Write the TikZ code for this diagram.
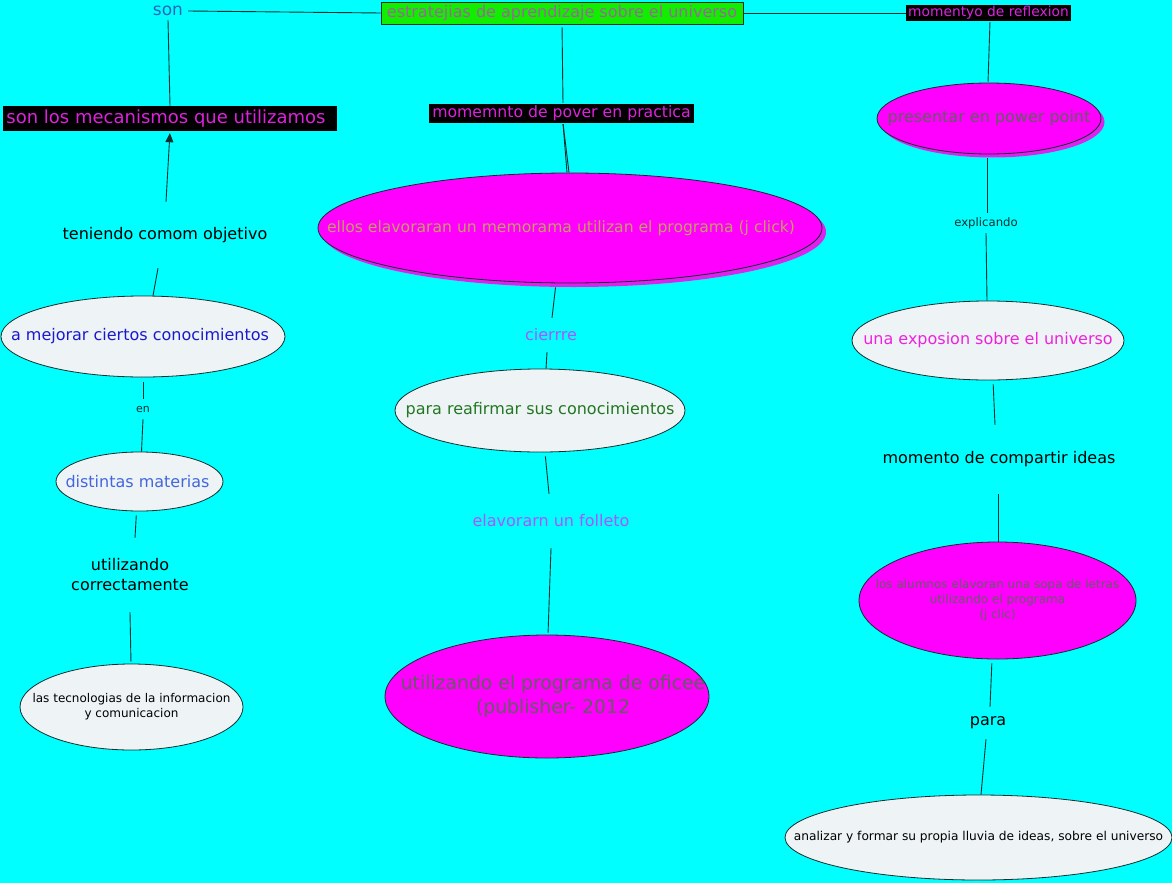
\documentclass[tikz,border=0pt]{standalone}
\usepackage{fontspec}
\setmainfont{DejaVu Sans}
\usetikzlibrary{shapes.geometric,arrows.meta}
\definecolor{bg}{HTML}{00FFFF}
\definecolor{grn}{HTML}{11EE00}
\definecolor{mag}{HTML}{FF00FF}
\definecolor{magsh}{HTML}{DD22EE}
\definecolor{pale}{HTML}{EEF4F6}
\definecolor{ln}{HTML}{0F2F2F}
\definecolor{tpurp}{HTML}{996699}
\definecolor{tson}{HTML}{2266BB}
\definecolor{tmag}{HTML}{DD22DD}
\definecolor{tblue}{HTML}{1A1ACC}
\definecolor{tlblue}{HTML}{4466DD}
\definecolor{ttan}{HTML}{C0A060}
\definecolor{tviol}{HTML}{AA55FF}
\definecolor{tgreen}{HTML}{227722}
\definecolor{tgray}{HTML}{5F5F5F}
\definecolor{tpink}{HTML}{EE22DD}
\definecolor{tdark}{HTML}{103030}
\tikzset{
  fs/.style={font=\fontsize{#1pt}{1.25\dimexpr#1pt\relax}\selectfont},
  lbl/.style={draw=none, inner sep=0pt, align=center, text=tdark},
  ellpale/.style={ellipse, draw=ln, line width=0.8pt, fill=pale, inner sep=0pt},
  ellmag/.style={ellipse, draw=ln, line width=0.8pt, fill=mag, inner sep=0pt},
  shadowell/.style={ellipse, fill=magsh, draw=none, inner sep=0pt},
  conn/.style={draw=ln, line width=0.9pt},
  etext/.style={inner sep=0pt, align=center},
}
\begin{document}
\begin{tikzpicture}[x=1pt,y=-1pt]
\useasboundingbox (0,0) rectangle (1172,883);
\fill[bg] (0,0) rectangle (1172,883);

% ---------- top row ----------
\node[draw=ln, line width=0.8pt, fill=grn, minimum width=362pt, minimum height=22pt, inner sep=0pt, text=tpurp, fs=16] (top) at (562,13) {estratejias de aprendizaje sobre el universo};
\node[lbl, minimum width=40pt, minimum height=18pt, text=tson, fs=17] (son) at (168,11) {son};
\node[fill=black, minimum width=165pt, minimum height=16pt, inner sep=0pt, text=tmag, fs=13.8] (refl) at (988.5,13) {momentyo de reflexion};

% ---------- left column ----------
\node[fill=black, minimum width=334pt, minimum height=25pt, inner sep=0pt, text=tmag, fs=18] (mec) at (170,118.5) {son los mecanismos que utilizamos\hspace*{8pt}};
\node[lbl, minimum width=200pt, minimum height=66pt, text=black, fs=16] (teni) at (165,235) {teniendo comom objetivo};
\node[ellpale, minimum width=284pt, minimum height=81pt] (mej) at (143,336.5) {};
\node[etext, text=tblue, fs=16] at ([xshift=-3pt]mej.center) {a mejorar ciertos conocimientos};
\node[lbl, minimum width=20pt, minimum height=20pt, fs=11] (en) at (143,409) {en};
\node[ellpale, minimum width=167pt, minimum height=59pt] (dist) at (139.5,481.5) {};
\node[etext, text=tlblue, fs=16] at ([xshift=-2pt]dist.center) {distintas materias};
\node[lbl, minimum width=130pt, minimum height=74pt, text=black, fs=16] (util) at (130,575) {utilizando\\correctamente};
\node[ellpale, minimum width=223pt, minimum height=86pt] (tec) at (131.5,707) {};
\node[etext, text=black, fs=12] at (tec) {las tecnologias de la informacion\\y comunicacion};

% ---------- centre column ----------
\node[fill=black, minimum width=265pt, minimum height=19pt, inner sep=0pt, text=tmag, fs=15.7] (mpp) at (561.5,113.5) {momemnto de pover en practica};
\node[shadowell, minimum width=504pt, minimum height=110pt] at (574,232) {};
\node[ellmag, minimum width=504pt, minimum height=110pt] (mem) at (570,228) {};
\node[etext, text=ttan, fs=15.6] at ([xshift=-9pt]mem.center) {ellos elavoraran un memorama utilizan el programa (j click)};
\node[lbl, minimum width=60pt, minimum height=34pt, text=tviol, fs=16] (cier) at (551,335) {cierrre};
\node[ellpale, minimum width=290pt, minimum height=83pt] (reaf) at (540,410.5) {};
\node[etext, text=tgreen, fs=16] at (reaf) {para reafirmar sus conocimientos};
\node[lbl, minimum width=170pt, minimum height=54pt, text=tviol, fs=16] (fol) at (551,521) {elavorarn un folleto};
\node[ellmag, minimum width=324pt, minimum height=123pt] (pub) at (547,696.5) {};
\node[etext, text=tgray, fs=18.8] at ([xshift=6pt]pub.center) {utilizando el programa de oficee\\(publisher- 2012};

% ---------- right column ----------
\node[shadowell, minimum width=224pt, minimum height=71pt] at (992.5,122) {};
\node[ellmag, minimum width=224pt, minimum height=71pt] (pres) at (989,118.5) {};
\node[etext, text=tgray, fs=16] at (pres) {presentar en power point};
\node[lbl, minimum width=70pt, minimum height=20pt, fs=11.7] (expl) at (986,223) {explicando};
\node[ellpale, minimum width=272pt, minimum height=79pt] (expo) at (988,340.5) {};
\node[etext, text=tpink, fs=16] at (expo) {una exposion sobre el universo};
\node[lbl, minimum width=240pt, minimum height=69pt, text=black, fs=16] (comp) at (999,459.5) {momento de compartir ideas};
\node[ellmag, minimum width=277pt, minimum height=117pt] (alum) at (997.5,600.5) {};
\node[etext, text=tgray, fs=12] at (alum) {los alumnos elavoran una sopa de letras\\utilizando el programa\\(j clic)};
\node[lbl, minimum width=50pt, minimum height=32pt, text=black, fs=16] (para) at (988,723) {para};
\node[ellpale, minimum width=387pt, minimum height=85pt] (anal) at (978.5,837.5) {};
\node[etext, text=black, fs=12.2] at (anal) {analizar y formar su propia lluvia de ideas, sobre el universo};

% ---------- connectors ----------
\draw[conn] (son.east) -- (top.west);
\draw[conn] (top.east) -- (refl.west);
\draw[conn] (son.south) -- (mec.north);
\draw[conn, -{Triangle[length=9pt,width=8pt]}, shorten >=2pt] ([xshift=1pt]teni.north) -- (mec.south);
\draw[conn] ([xshift=-7pt]teni.south) -- ([xshift=10pt]mej.north);
\draw[conn, shorten <=5pt] (mej.south) -- (en.north);
\draw[conn] ([xshift=0pt]en.south) -- ([xshift=2pt]dist.north);
\draw[conn, shorten <=4pt] ([xshift=-3pt]dist.south) -- ([xshift=5pt]util.north);
\draw[conn, shorten >=2pt] (util.south) -- ([xshift=-0.5pt]tec.north);

\draw[conn, shorten <=3pt, shorten >=1pt] (top.south) -- ([xshift=1.5pt]mpp.north);
\draw[conn, shorten <=1pt] ([xshift=1.5pt]mpp.south) -- ([xshift=-3pt]mem.north);
\draw[conn, shorten <=1pt] ([xshift=1.5pt]mpp.south) -- ([xshift=-1pt]mem.north);
\draw[conn, shorten <=4pt] ([xshift=-14pt]mem.south) -- ([xshift=1pt]cier.north);
\draw[conn] ([xshift=-4pt]cier.south) -- ([xshift=6pt]reaf.north);
\draw[conn, shorten <=4pt] ([xshift=5pt]reaf.south) -- ([xshift=-2pt]fol.north);
\draw[conn, shorten >=2pt] (fol.south) -- ([xshift=1pt]pub.north);

\draw[conn, shorten <=1pt, shorten >=1pt] ([xshift=1.5pt]refl.south) -- ([xshift=-1pt]pres.north);
\draw[conn, shorten <=4pt] ([xshift=-2pt]pres.south) -- ([xshift=1pt]expl.north);
\draw[conn] (expl.south) -- ([xshift=-1pt]expo.north);
\draw[conn, shorten <=4pt] ([xshift=5pt]expo.south) -- ([xshift=-4pt]comp.north);
\draw[conn] ([xshift=-1pt]comp.south) -- ([xshift=0.5pt]alum.north);
\draw[conn, shorten <=4pt] ([xshift=-5.5pt]alum.south) -- ([xshift=2pt]para.north);
\draw[conn] ([xshift=-2pt]para.south) -- ([xshift=2.5pt]anal.north);
\end{tikzpicture}
\end{document}
